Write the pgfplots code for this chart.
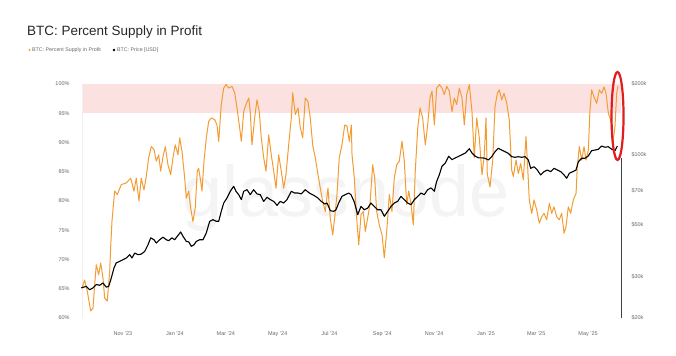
\documentclass[border=0pt]{standalone}
\usepackage{pgfplots}
\pgfplotsset{compat=1.18}
\usepackage{fontspec}
\setmainfont{Liberation Sans}
\definecolor{btcorange}{RGB}{243,156,50}
\definecolor{bandpink}{RGB}{252,225,225}
\definecolor{ticklab}{RGB}{105,105,105}
\definecolor{titlecol}{RGB}{40,40,40}
\definecolor{ellred}{RGB}{225,30,30}
\begin{document}
\begin{tikzpicture}[x=1bp,y=1bp]
\fill[white] (0,0) rectangle (676,-355);
\node[anchor=base west, text=titlecol, font=\fontsize{13.5}{15}\selectfont, inner sep=0] at (27,-35) {BTC: Percent Supply in Profit};
\fill[btcorange] (29.5,-50) circle (1.1);
\node[anchor=west, text=ticklab, font=\fontsize{5.3}{6}\selectfont, inner sep=0] at (32,-50) {BTC: Percent Supply in Profit};
\fill[black] (114,-50) circle (1.3);
\node[anchor=west, text=ticklab, font=\fontsize{5.3}{6}\selectfont, inner sep=0] at (117,-50) {BTC: Price [USD]};
\begin{axis}[
  at={(82bp,-318bp)}, anchor=south west,
  width=539bp, height=234bp, scale only axis,
  xmin=-48.2, xmax=585.8, ymin=60, ymax=100,
  axis line style={draw=none},
  major tick length=0pt,
  xtick={0,61,121,182,243,305,366,427,486,547},
  xticklabels={{Nov '23},{Jan '24},{Mar '24},{May '24},{Jul '24},{Sep '24},{Nov '24},{Jan '25},{Mar '25},{May '25}},
  ytick={60,65,70,75,80,85,90,95,100},
  yticklabels={60\%,65\%,70\%,75\%,80\%,85\%,90\%,95\%,100\%},
  tick label style={font=\fontsize{5.5}{6}\selectfont, text=ticklab},
  /pgf/number format/assume math mode=true,
  yticklabel style={xshift=-9bp},
  xticklabel style={yshift=-10bp},
]
\fill[bandpink] (rel axis cs:0,0.875) rectangle (rel axis cs:1,1);
\draw[gray!12, line width=0.5bp] (rel axis cs:0,0) -- (rel axis cs:0,1);
\node[text=gray!9, font=\fontsize{72}{72}\selectfont] at (axis cs:262,80.5) {glassnode};
\addplot[btcorange, line width=1.0bp, line join=round] coordinates {
(-49.4,64.6)(-45.1,66.5)(-42.0,64.6)(-38.0,61.2)(-35.3,61.7)(-33.3,65.7)(-31.4,69.1)(-28.6,67.4)(-26.2,69.4)(-23.5,66.8)
(-21.5,63.4)(-18.5,62.9)(-15.6,68.0)(-14.5,72.0)(-12.9,76.6)(-9.8,81.7)(-6.7,81.1)(-2.0,82.8)(3.9,83.1)(9.1,83.9)
(12.9,81.7)(15.6,83.9)(18.8,80.0)(21.5,83.9)(24.7,81.9)(27.4,84.2)(30.2,87.4)(33.3,89.3)(36.5,88.8)(39.2,86.8)
(42.0,87.9)(44.3,85.1)(47.1,87.6)(49.8,89.3)(52.9,86.2)(56.1,84.5)(58.8,87.4)(61.5,89.6)(64.7,87.9)(66.7,90.8)
(69.4,88.5)(72.6,83.9)(74.5,80.5)(77.3,81.7)(79.6,78.8)(82.3,76.5)(85.0,78.8)(87.4,85.1)(89.0,85.6)(91.4,83.4)
(92.9,81.7)(95.3,86.8)(98.0,90.8)(100.8,93.6)(103.9,94.2)(107.9,93.9)(110.6,93.0)(112.6,90.2)(115.6,96.5)(118.5,99.3)
(121.2,99.9)(124.3,99.3)(128.2,99.6)(131.4,98.5)(134.1,95.9)(136.8,93.0)(139.2,90.2)(142.0,95.3)(144.7,96.5)(147.9,97.6)
(149.7,95.3)(151.7,89.6)(154.9,94.2)(157.6,97.3)(160.3,95.3)(162.7,90.8)(165.5,87.4)(168.2,85.1)(171.4,91.3)(174.4,87.9)
(177.3,85.1)(180.0,82.2)(183.1,87.9)(186.2,85.1)(189.0,82.2)(191.7,84.5)(194.9,89.6)(198.0,94.2)(199.6,98.5)(202.7,94.8)
(205.9,95.9)(208.6,92.5)(211.4,90.8)(214.4,97.6)(217.6,97.0)(220.3,94.2)(223.1,89.6)(226.2,87.4)(229.4,84.5)(232.1,82.2)
(234.9,79.9)(238.0,78.2)(241.1,82.2)(243.8,77.1)(246.7,74.2)(249.0,77.1)(251.7,81.1)(254.4,87.4)(257.6,89.6)(260.8,93.0)
(263.5,92.8)(266.2,90.2)(268.6,93.0)(269.4,87.9)(272.1,83.9)(274.9,77.1)(277.3,72.5)(280.0,77.7)(282.7,78.2)(285.0,74.8)
(287.8,77.1)(290.5,79.4)(293.7,86.2)(296.1,83.9)(298.4,78.2)(301.5,75.9)(304.7,74.2)(307.4,70.3)(310.2,74.8)(313.3,81.1)
(316.4,78.2)(319.1,83.9)(322.0,86.2)(325.0,86.8)(328.2,90.2)(330.9,86.8)(333.7,79.4)(336.1,81.7)(338.8,79.4)(341.5,75.9)
(343.8,85.1)(346.7,92.5)(349.4,95.9)(352.5,94.2)(355.6,89.6)(358.4,93.0)(361.1,97.6)(363.5,98.8)(366.2,93.0)(369.0,99.3)
(372.1,99.9)(375.2,99.3)(377.9,98.2)(380.8,99.6)(383.8,98.8)(387.0,95.3)(389.7,97.6)(392.5,96.5)(395.6,99.3)(398.8,97.6)
(401.5,93.0)(404.3,98.2)(407.4,99.9)(410.5,95.3)(413.2,87.4)(416.1,94.2)(419.1,90.8)(422.3,84.5)(425.0,87.9)(427.0,94.2)
(428.5,84.6)(431.7,82.4)(434.9,87.0)(437.6,96.1)(440.3,98.4)(442.6,99.0)(445.5,97.3)(448.2,98.4)(451.4,96.7)(454.4,93.8)
(457.2,85.3)(459.1,84.2)(462.3,87.0)(465.0,84.7)(467.8,86.4)(470.9,83.6)(474.0,91.0)(475.6,87.0)(477.9,80.2)(480.8,77.9)
(483.5,80.2)(486.6,78.5)(489.7,76.2)(492.5,77.3)(495.2,77.9)(498.4,76.8)(501.5,79.6)(504.3,77.9)(507.0,79.0)(510.2,77.3)
(513.2,76.8)(516.0,77.9)(518.8,74.5)(521.1,75.6)(523.8,79.0)(526.6,77.9)(529.7,80.2)(532.9,81.3)(534.4,85.9)(536.8,89.3)
(539.6,87.0)(542.3,89.3)(544.6,87.0)(547.4,88.7)(549.3,95.6)(551.3,99.0)(554.0,97.8)(557.2,96.7)(560.3,99.0)(563.1,98.4)
(565.8,99.5)(568.2,98.4)(570.9,95.0)(573.7,93.8)(576.1,89.9)(578.7,92.7)(580.7,98.4)(582.3,99.7)
};
\end{axis}
\begin{axis}[
  at={(82bp,-318bp)}, anchor=south west,
  width=539bp, height=234bp, scale only axis,
  xmin=-48.2, xmax=585.8, ymode=log, ymin=20000, ymax=200000,
  axis x line=none, axis y line*=right,
  axis line style={draw=none},
  major tick length=0pt, minor tick num=0,
  ytick={20000,30000,50000,70000,100000,200000},
  yticklabels={\$20k,\$30k,\$50k,\$70k,\$100k,\$200k},
  tick label style={font=\fontsize{5.5}{6}\selectfont, text=ticklab},
  yticklabel style={anchor=west, xshift=7bp},
  clip=false,
]
\draw[gray!50!black, line width=0.6bp] (rel axis cs:1,0) -- (axis cs:585.8,97000);
\addplot[black, line width=1.1bp, line join=round] coordinates {
(-49.1,26900)(-43.2,27300)(-39.2,26400)(-35.3,26900)(-31.4,27800)(-27.4,27600)(-23.5,28200)(-19.6,27100)(-16.8,27300)(-13.8,29600)
(-10.6,32700)(-7.9,34400)(-3.9,34900)(0,35500)(3.9,36100)(7.9,37300)(10.6,36100)(13.8,37900)(17.6,37300)(21.5,37500)
(25.5,38500)(29.4,41100)(32.6,44000)(36.5,43200)(39.2,41800)(43.2,43200)(47.1,44300)(50.9,43200)(53.8,42800)(57.6,44000)
(60.8,43200)(63.9,44700)(67.9,46600)(70.6,44700)(74.5,42500)(77.3,42300)(80.3,40500)(83.5,41100)(86.2,42500)(90.2,43200)
(94.1,43200)(98.0,46200)(102.0,51800)(105.9,52600)(109.7,51800)(112.6,51800)(115.6,57100)(118.5,62000)(122.3,65100)(126.2,69600)
(130.2,73100)(132.9,69600)(136.1,67300)(139.2,64100)(142.0,69600)(145.9,70700)(149.7,67300)(153.7,70700)(157.6,67800)(161.5,67300)
(165.5,63000)(169.4,65600)(173.3,64100)(177.3,63000)(181.2,60600)(185.0,63000)(189.0,62000)(192.9,64100)(198.0,69600)(202.0,68400)
(205.9,68400)(209.7,67800)(214.4,70700)(219.2,68400)(224.3,66900)(229.4,65100)(233.3,63000)(237.3,61400)(240.0,62000)(243.9,57500)
(247.8,57100)(250.6,58000)(253.7,62000)(257.6,66200)(261.5,67300)(265.5,68400)(268.2,67300)(272.1,62600)(276.1,55300)(280.0,60000)
(283.8,58000)(287.8,59000)(291.7,62000)(295.6,60000)(299.6,58000)(303.5,58000)(307.4,54400)(311.4,57100)(315.3,60000)(319.1,62000)
(323.1,63000)(327.0,66200)(330.9,64100)(334.9,62000)(338.8,61000)(342.7,64100)(346.7,66200)(350.5,68400)(354.4,67300)(358.4,70700)
(362.3,71900)(366.2,69600)(369.0,76800)(372.1,81900)(375.2,89000)(379.1,91900)(383.1,98200)(387.0,95000)(390.9,96600)(394.9,98200)
(398.8,99800)(402.7,101400)(407.4,105800)(410.5,101400)(414.4,98200)(418.4,96600)(423.1,96600)(425.8,96300)(429.7,94700)(433.7,97800)
(437.6,102700)(441.5,106200)(445.5,104400)(449.3,102700)(453.2,101100)(457.2,97800)(461.1,97200)(465.0,97800)(469.0,97200)(472.9,97800)
(476.8,94700)(479.6,87200)(483.5,88600)(487.3,85800)(491.3,81700)(495.2,84400)(499.1,85800)(503.1,84400)(507.0,87200)(510.9,85800)
(514.9,84400)(518.8,81700)(521.9,79100)(525.0,83100)(529.0,84400)(532.9,85800)(535.6,93100)(539.6,96300)(543.5,96300)(547.3,98500)
(551.3,103800)(555.2,104400)(559.1,105200)(563.1,108600)(567.0,107300)(570.9,107900)(574.9,105200)(578.7,103800)(581.5,108600)
};
\draw[ellred, line width=2.2bp] (axis cs:581.7,146000) ellipse [x radius=6bp, y radius=44bp];
\end{axis}
\end{tikzpicture}
\end{document}
